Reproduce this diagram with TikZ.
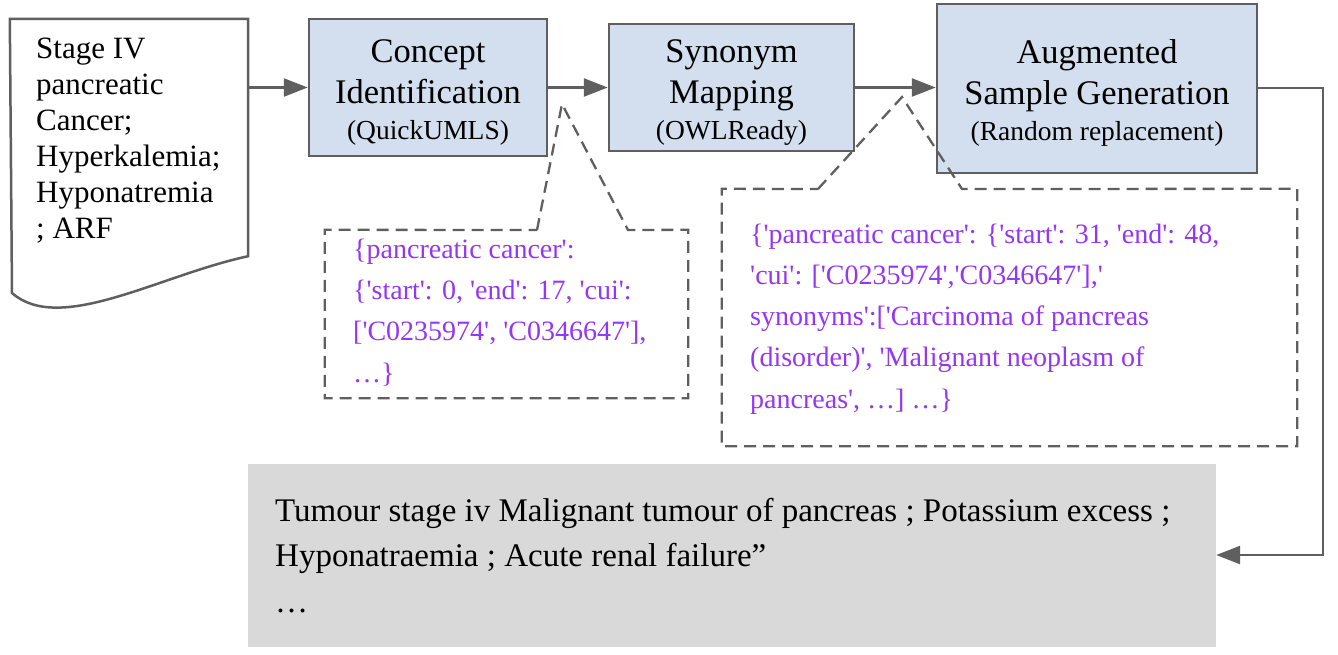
\documentclass[tikz,border=0pt]{standalone}
\usepackage{fontspec}
\setmainfont{Liberation Serif}
\usetikzlibrary{arrows.meta}
\definecolor{lineg}{HTML}{5F5F5F}
\definecolor{boxblue}{HTML}{D3DFEE}
\definecolor{purp}{HTML}{9436F2}
\definecolor{grayfill}{HTML}{D9D9D9}
\newcommand\aq{\textquotesingle}
\tikzset{
  proc/.style={draw=lineg, line width=2.5pt, fill=boxblue, inner sep=0pt},
  ttl/.style={anchor=base, inner sep=0pt, font=\fontsize{34.5}{40}\selectfont},
  subt/.style={anchor=base, inner sep=0pt, font=\fontsize{27.5}{32}\selectfont},
  arr/.style={draw=lineg, line width=2.5pt, -{Triangle[length=24pt,width=18pt]}},
  calloutline/.style={draw=lineg, line width=2.3pt, dash pattern=on 12pt off 7pt},
  calltext/.style={anchor=north west, inner sep=0pt, align=left, text=purp, font=\fontsize{28}{41.3}\selectfont},
  blocktext/.style={anchor=north west, inner sep=0pt, align=left}
}
\begin{document}
\begin{tikzpicture}[x=1pt,y=-1pt]
\useasboundingbox (0,0) rectangle (1338,654);

% input document
\node[inner sep=0pt, minimum width=238pt, minimum height=237pt] (doc) at (129,137.5) {};
\draw[draw=lineg, line width=2.5pt, fill=white]
  (doc.north west) -- (doc.north east) -- (doc.south east)
  .. controls (160,275) and (60,335) .. (12,293) -- cycle;
\node[blocktext, font=\fontsize{31}{36}\selectfont] (doctext) at (36,33)
  {\rule{0pt}{25pt}Stage IV\\pancreatic\\Cancer;\\Hyperkalemia;\\Hyponatremia\\; ARF};

% process boxes
\node[proc, minimum width=238pt, minimum height=137pt] (b1) at (428,87.5) {};
\node[ttl] (b1a) at (428,62) {Concept};
\node[ttl] (b1b) at (428,103) {Identification};
\node[subt] (b1c) at (428,139) {(QuickUMLS)};

\node[proc, minimum width=245pt, minimum height=127pt] (b2) at (731.5,87.5) {};
\node[ttl] (b2a) at (731.5,62) {Synonym};
\node[ttl] (b2b) at (731.5,103) {Mapping};
\node[subt] (b2c) at (731.5,139) {(OWLReady)};

\node[proc, minimum width=320pt, minimum height=169pt] (b3) at (1097,88.5) {};
\node[ttl] (b3a) at (1097,63) {Augmented};
\node[ttl] (b3b) at (1097,104) {Sample Generation};
\node[subt] (b3c) at (1097,140) {(Random replacement)};

% output box
\node[fill=grayfill, inner sep=0pt, minimum width=968pt, minimum height=183pt] (out) at (732,555) {};
\node[blocktext, font=\fontsize{33}{45.5}\selectfont] (outtext) at (275,493)
  {\rule{0pt}{28pt}Tumour stage iv Malignant tumour of pancreas ; Potassium excess ;\\
   Hyponatraemia ; Acute renal failure”\\…};

% connectors
\draw[arr] (b1.west -| doc.east) -- (b1.west);
\draw[arr] (b1.east) -- (b2.west);
\draw[arr] (b2.east) -- (b2.east -| b3.west);
\coordinate (turn) at (1323,88);
\draw[arr] (b3.east |- turn) -- (turn) |- (out.east);

% callout 1
\node[inner sep=0pt, minimum width=363pt, minimum height=168pt] (c1) at (506.5,314) {};
\coordinate (c1tip) at (562,104);
\draw[calloutline] (537,230) -- (c1tip) -- (628,230) -- (c1.north east) -- (c1.south east)
  -- (c1.south west) -- (c1.north west) -- cycle;
\node[calltext] (c1text) at (353,230)
  {\rule{0pt}{28pt}\{pancreatic cancer\aq:\\
   \{\aq start\aq: 0, \aq end\aq: 17, \aq cui\aq:\\
   {[}\aq C0235974\aq, \aq C0346647\aq],\\
   …\}};

% callout 2
\node[inner sep=0pt, minimum width=575pt, minimum height=257pt] (c2) at (1009.5,317.5) {};
\coordinate (c2tip) at (902,97);
\draw[calloutline] (818,189) -- (c2tip) -- (962,189) -- (c2.north east) -- (c2.south east)
  -- (c2.south west) -- (c2.north west) -- cycle;
\node[calltext, font=\fontsize{28}{41.2}\selectfont] (c2text) at (750,215)
  {\rule{0pt}{28pt}\{\aq pancreatic cancer\aq: \{\aq start\aq: 31, \aq end\aq: 48,\\
   \aq cui\aq: [\aq C0235974\aq,\aq C0346647\aq],\aq\\
   synonyms\aq:[\aq Carcinoma of pancreas\\
   (disorder)\aq, \aq Malignant neoplasm of\\
   pancreas\aq, …] …\}};
\end{tikzpicture}
\end{document}
